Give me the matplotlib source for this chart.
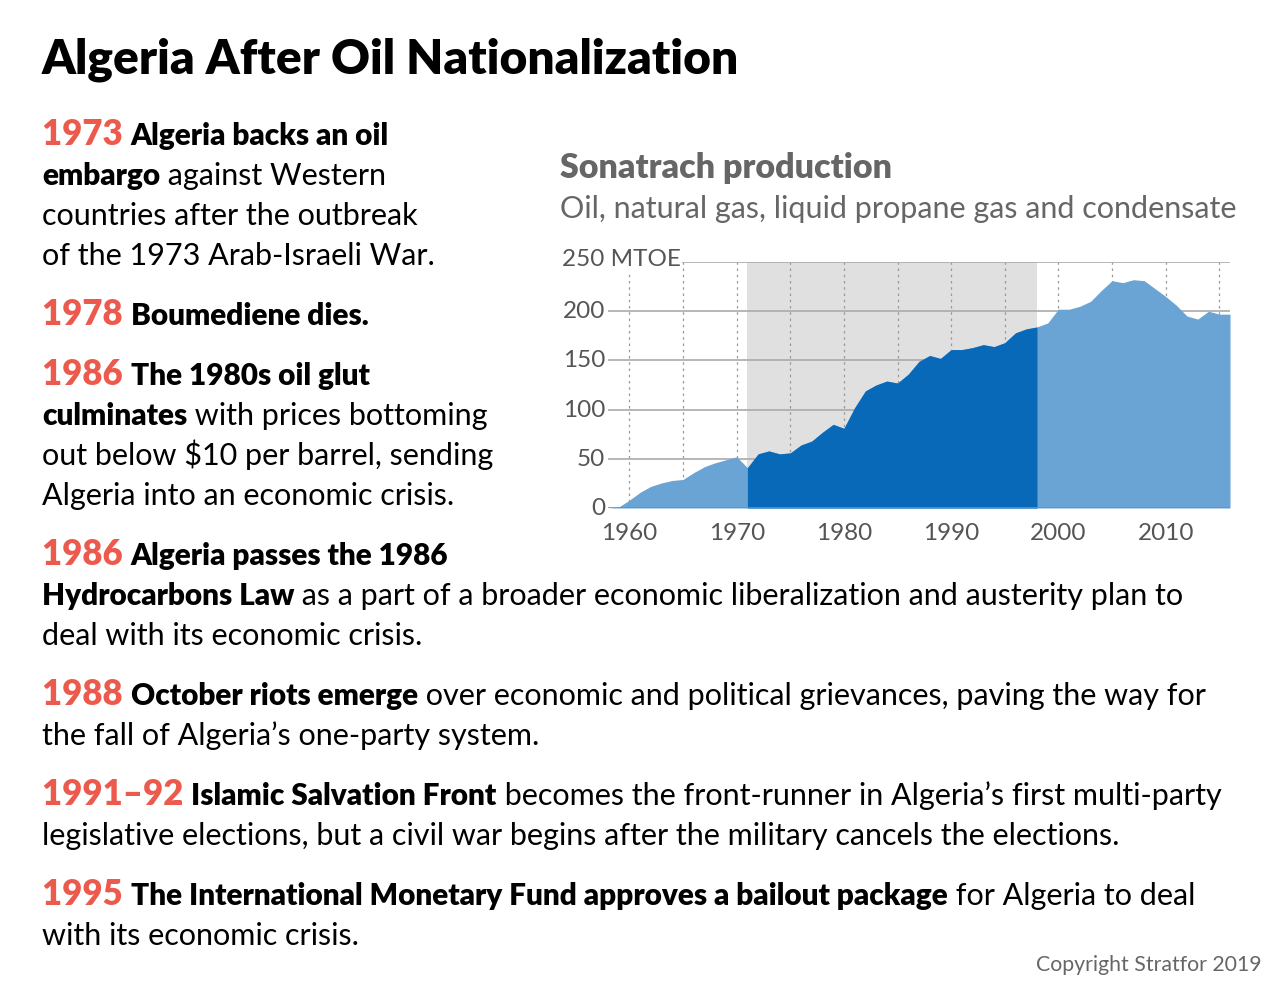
import matplotlib
matplotlib.use("Agg")
import matplotlib.pyplot as plt

# Sonatrach production, MTOE
years = list(range(1958, 2017))
values = [0, 1, 8, 16, 22, 25.5, 28, 29, 36, 42, 46, 49, 52, 41, 55, 58, 55, 56, 64, 68,
          77, 85, 81, 102, 119, 125, 129, 127, 136, 149, 155, 152, 161, 161, 163, 166,
          164, 168, 178, 182, 184, 188, 202, 202, 205, 210, 221, 231, 229, 232, 231,
          223, 215, 206, 195, 192, 200, 197, 197]
shade_start, shade_end = 1971, 1998

# text blocks: list of lines, each line a list of (text, style)
blocks = [
    [[("1973 ", "year"), ("Algeria backs an oil", "b")],
     [("embargo", "b"), (" against Western", "r")],
     [("countries after the outbreak", "r")],
     [("of the 1973 Arab-Israeli War.", "r")]],
    [[("1978 ", "year"), ("Boumediene dies.", "b")]],
    [[("1986 ", "year"), ("The 1980s oil glut", "b")],
     [("culminates", "b"), (" with prices bottoming", "r")],
     [("out below $10 per barrel, sending", "r")],
     [("Algeria into an economic crisis.", "r")]],
    [[("1986 ", "year"), ("Algeria passes the 1986", "b")],
     [("Hydrocarbons Law", "b"), (" as a part of a broader economic liberalization and austerity plan to", "r")],
     [("deal with its economic crisis.", "r")]],
    [[("1988 ", "year"), ("October riots emerge", "b"), (" over economic and political grievances, paving the way for", "r")],
     [("the fall of Algeria\u2019s one-party system.", "r")]],
    [[("1991\u201392 ", "year"), ("Islamic Salvation Front", "b"), (" becomes the front-runner in Algeria\u2019s first multi-party", "r")],
     [("legislative elections, but a civil war begins after the military cancels the elections.", "r")]],
    [[("1995 ", "year"), ("The International Monetary Fund approves a bailout package", "b"), (" for Algeria to deal", "r")],
     [("with its economic crisis.", "r")]],
]
block_tops = [145, 325, 385, 565, 705, 805, 905]

W, H = 1280, 986
FONT = ["Lato", "DejaVu Sans"]
RED = "#ec5a4d"
GREY = "#666666"
styles = {
    "year": dict(fontsize=25, fontweight="heavy", color=RED),
    "b": dict(fontsize=21.4, fontweight="heavy", color="black"),
    "r": dict(fontsize=22, fontweight="normal", color="black"),
}

fig = plt.figure(figsize=(W / 100, H / 100), dpi=100)
fig.patch.set_facecolor("white")
renderer = fig.canvas.get_renderer()


def px(x, y):
    return x / W, 1 - y / H


fig.text(*px(42, 74), "Algeria After Oil Nationalization", fontsize=34.5, fontweight="heavy",
         family=FONT, va="baseline")

for block, top in zip(blocks, block_tops):
    for i, line in enumerate(block):
        x = 42
        y = top + 40 * i
        for txt, st in line:
            t = fig.text(*px(x, y), txt, family=FONT, va="baseline", **styles[st])
            x += t.get_window_extent(renderer).width

fig.text(*px(1262, 971), "Copyright Stratfor 2019", fontsize=15.3, color=GREY,
         family=FONT, ha="right", va="baseline")

# chart titles
fig.text(*px(560, 178), "Sonatrach production", fontsize=24.5, fontweight="heavy",
         color=GREY, family=FONT, va="baseline")
fig.text(*px(560, 218), "Oil, natural gas, liquid propane gas and condensate", fontsize=22,
         color=GREY, family=FONT, va="baseline")

# chart
l, r, t, b = 608, 1230, 262, 508
ax = fig.add_axes([l / W, 1 - b / H, (r - l) / W, (b - t) / H])
ax.set_xlim(years[0], years[-1])
ax.set_ylim(0, 250)
ax.axvspan(shade_start, shade_end, color="#e0e0e0", zorder=0, lw=0)
for xv in range(1960, 2017, 5):
    ax.axvline(xv, color="#999999", lw=0.9, ls=(0, (2, 3)), zorder=1)
for yv in [50, 100, 150, 200, 250]:
    ax.axhline(yv, color="#aaaaaa", lw=1.2, zorder=1)
ax.fill_between(years, values, color="#69a4d4", lw=0, zorder=2)
ax.fill_between(years, values, where=[shade_start <= yr <= shade_end for yr in years],
                color="#0769b8", lw=0, zorder=3)
ax.axhline(0, color="#888888", lw=1.2, zorder=4)
for s in ax.spines.values():
    s.set_visible(False)
ax.set_xticks(range(1960, 2011, 10))
ax.tick_params(axis="x", length=0, labelsize=17.5, labelcolor="#555555", pad=11)
ax.set_yticks([])
for lab in ax.get_xticklabels():
    lab.set_family(FONT)
for yv in [0, 50, 100, 150, 200]:
    fig.text(*px(605, b - yv * (b - t) / 250 + 7), str(yv), fontsize=17.5, color="#555555",
             family=FONT, ha="right", va="baseline")
fig.text(*px(562, 266), "250 MTOE", fontsize=17.5, color="#555555", family=FONT,
         va="baseline", bbox=dict(facecolor="white", edgecolor="none", pad=1))

fig.savefig("out.png", dpi=100, facecolor="white")
